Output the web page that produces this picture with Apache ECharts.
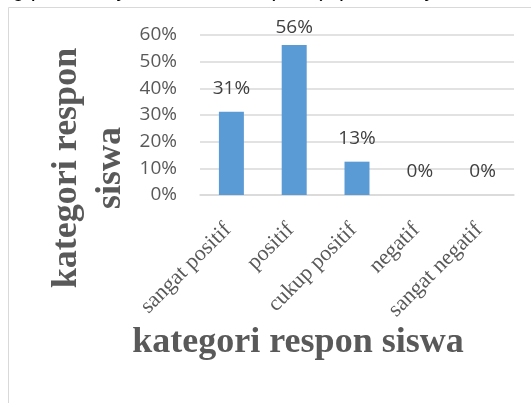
<!DOCTYPE html>
<html>
<head>
<meta charset="utf-8">
<script src="https://cdn.jsdelivr.net/npm/echarts@6/dist/echarts.min.js"></script>
<style>
  html, body { margin: 0; padding: 0; background: #fff; }
  #chart { width: 531px; height: 403px; }
</style>
</head>
<body>
<div id="chart"></div>
<script>
// data
const categories = ["sangat positif", "positif", "cukup positif", "negatif", "sangat negatif"]
const values = [31.25, 56.25, 12.5, 0, 0]
const yTicks = [0, 10, 20, 30, 40, 50, 60]
const axisTitle = "kategori respon siswa"
const topLine = "ang positif sejumlah 5 siswa (31%), positif sejumlah 9 siswa"

const serif = '"Liberation Serif", "Times New Roman", serif'
const sans = '"Open Sans", "Liberation Sans", sans-serif'

let option = {
  animation: false,
  grid: {
    left: 200,
    right: 17,
    top: 35,
    bottom: 208
  },
  xAxis: {
    type: "category",
    data: categories,
    axisTick: { show: false },
    axisLine: {
      lineStyle: { color: "#d9d9d9", width: 1.5 }
    },
    axisLabel: {
      interval: 0,
      rotate: 45,
      margin: 28,
      padding: [0, 5, 0, 0],
      fontFamily: serif,
      fontSize: 22,
      color: "#595959"
    }
  },
  yAxis: {
    type: "value",
    min: yTicks[0],
    max: yTicks[yTicks.length - 1],
    interval: 10,
    axisLine: { show: false },
    axisTick: { show: false },
    splitLine: {
      lineStyle: { color: "#d9d9d9", width: 1.5 }
    },
    axisLabel: {
      margin: 23,
      formatter: "{value}%",
      fontFamily: sans,
      fontSize: 19,
      color: "#595959"
    }
  },
  series: [
    {
      type: "bar",
      barWidth: 25,
      itemStyle: { color: "#5b9bd5" },
      label: {
        show: true,
        position: "top",
        distance: 14,
        fontFamily: sans,
        fontSize: 19,
        color: "#404040",
        formatter: p => Math.round(p.value) + "%"
      },
      data: values.map((v, i) => (i === 1 ? { value: v, label: { distance: 8 } } : v))
    }
  ],
  graphic: [
    {
      type: "rect",
      silent: true,
      shape: { x: 8.5, y: 7.5, width: 600, height: 600 },
      style: { fill: "none", stroke: "#d9d9d9", lineWidth: 1 }
    },
    {
      type: "text",
      x: -12,
      y: 1,
      style: {
        text: topLine,
        fontFamily: '"Liberation Sans", Arial, sans-serif',
        fontSize: 22,
        fill: "#000",
        textVerticalAlign: "bottom"
      }
    },
    {
      type: "text",
      x: 67,
      y: 168,
      rotation: Math.PI / 2,
      style: {
        text: "kategori respon",
        fontFamily: serif,
        fontWeight: "bold",
        fontSize: 36,
        fill: "#595959",
        textAlign: "center",
        textVerticalAlign: "middle"
      }
    },
    {
      type: "text",
      x: 111,
      y: 168,
      rotation: Math.PI / 2,
      style: {
        text: "siswa",
        fontFamily: serif,
        fontWeight: "bold",
        fontSize: 36,
        fill: "#595959",
        textAlign: "center",
        textVerticalAlign: "middle"
      }
    },
    {
      type: "text",
      x: 298,
      y: 343,
      style: {
        text: axisTitle,
        fontFamily: serif,
        fontWeight: "bold",
        fontSize: 36,
        fill: "#595959",
        textAlign: "center",
        textVerticalAlign: "middle"
      }
    }
  ]
}

let chartEl = echarts.init(document.getElementById("chart"))
chartEl.setOption(option)
window.addEventListener("resize", () => chartEl.resize())
</script>
</body>
</html>
